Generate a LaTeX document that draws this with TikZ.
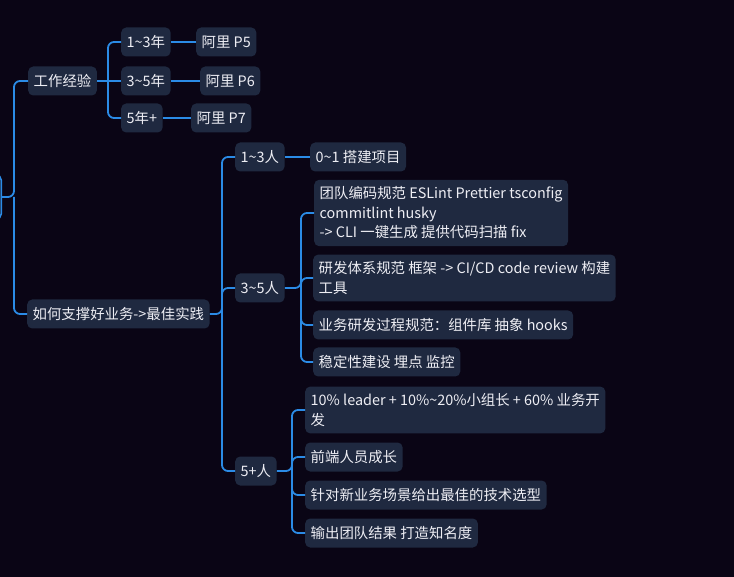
\documentclass[tikz,border=0pt]{standalone}
\usepackage{fontspec}
\usepackage{xcolor}
\usepackage{tikz}
\newfontfamily\cjk{Noto Sans CJK SC}
\definecolor{bg}{HTML}{0A0515}
\definecolor{box}{HTML}{1F2940}
\definecolor{wire}{HTML}{2B8BE6}
\definecolor{ink}{HTML}{EEEEF4}

\begin{document}
\begin{tikzpicture}[x=1pt, y=-1pt,
    topic/.style={fill=box, text=ink, rounded corners=5pt, anchor=west, align=left,
        font=\cjk\fontsize{14.4}{19.5}\selectfont, inner xsep=5.5pt, inner ysep=7pt, minimum height=29pt},
    link/.style={draw=wire, line width=1.8pt, rounded corners=6pt}]

    % \draw [help lines, step = 50] (0,0) grid (734,577);

    \fill [bg] (0,0) rectangle (734,577);
    \clip (0,0) rectangle (734,577);

    % root (cut by the left edge)
    \node [topic, anchor=east, draw=wire, line width=1.5pt, minimum width=60pt, minimum height=44pt] (root) at (2,197) {};

    % work years
    \node [topic] (work) at (28,81) {工作经验};
    \node [topic] (y13) at (121,42) {1\textasciitilde3年};
    \node [topic] (y35) at (121,81) {3\textasciitilde5年};
    \node [topic] (y5) at (121,118) {5年+};
    \node [topic] (p5) at (196,42) {阿里 P5};
    \node [topic] (p6) at (200,81) {阿里 P6};
    \node [topic] (p7) at (191,118) {阿里 P7};

    % best practice
    \node [topic] (best) at (27,314) {如何支撑好业务->最佳实践};
    \node [topic] (t13) at (235,157) {1\textasciitilde3人};
    \node [topic] (t35) at (235,288) {3\textasciitilde5人};
    \node [topic] (t5) at (235,471) {5+人};

    % team 1-3
    \node [topic] (s01) at (310,157) {0\textasciitilde1 搭建项目};

    % team 3-5
    \node [topic] (lint) at (314,213) {团队编码规范 ESLint Prettier tsconfig\\commitlint husky\\-> CLI 一键生成 提供代码扫描 fix};
    \node [topic] (flow) at (313,278) {研发体系规范 框架 -> CI/CD code review 构建\\工具};
    \node [topic] (biz) at (313,325) {业务研发过程规范：组件库 抽象 hooks};
    \node [topic] (stab) at (313,362) {稳定性建设 埋点 监控};

    % team 5+
    \node [topic] (ratio) at (305,410) {10\% leader + 10\%\textasciitilde20\%小组长 + 60\% 业务开\\发};
    \node [topic] (grow) at (305,457) {前端人员成长};
    \node [topic] (tech) at (305,495) {针对新业务场景给出最佳的技术选型};
    \node [topic] (brand) at (305,533) {输出团队结果 打造知名度};

    % forks
    \coordinate (rootfork) at (14,197);
    \coordinate (workfork) at (108,81);
    \coordinate (bestfork) at (222,314);
    \coordinate (t35fork) at (301,288);
    \coordinate (t5fork) at (292,471);

    \draw [link] (root.east) -- (rootfork) |- (work.west);
    \draw [link] (rootfork) |- (best.west);

    \draw [link] (work.east) -- (y35.west);
    \draw [link] (workfork) |- (y13.west);
    \draw [link] (workfork) |- (y5.west);
    \draw [link] (y13) -- (p5);
    \draw [link] (y35) -- (p6);
    \draw [link] (y5) -- (p7);

    \draw [link] (best.east) -- (bestfork) |- (t13.west);
    \draw [link] (bestfork) |- (t35.west);
    \draw [link] (bestfork) |- (t5.west);
    \draw [link] (t13) -- (s01);

    \draw [link] (t35.east) -- (t35fork) |- (lint.west);
    \draw [link] (t35fork) |- (flow.west);
    \draw [link] (t35fork) |- (biz.west);
    \draw [link] (t35fork) |- (stab.west);

    \draw [link] (t5.east) -- (t5fork) |- (ratio.west);
    \draw [link] (t5fork) |- (grow.west);
    \draw [link] (t5fork) |- (tech.west);
    \draw [link] (t5fork) |- (brand.west);

\end{tikzpicture}
\end{document}
